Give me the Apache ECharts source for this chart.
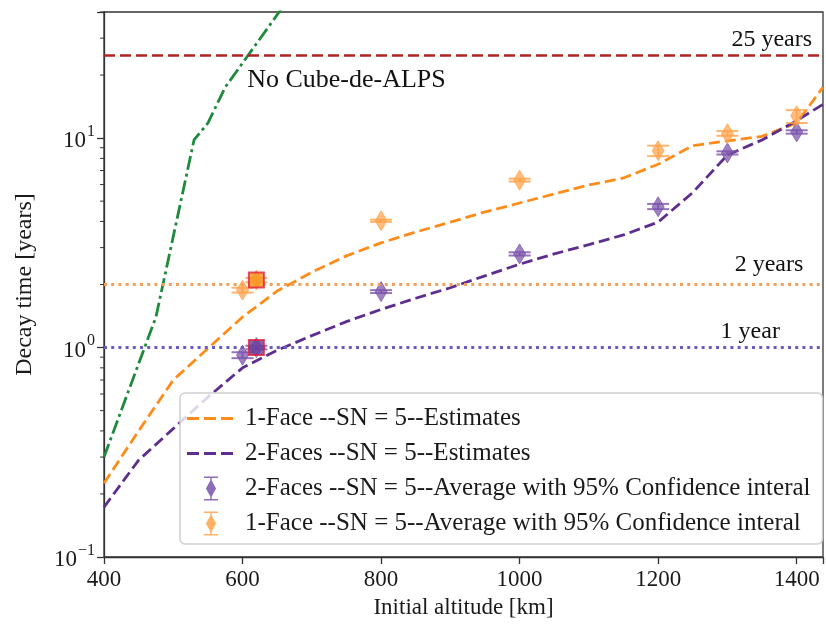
<!DOCTYPE html>
<html>
<head>
<meta charset="utf-8">
<script src="https://cdn.jsdelivr.net/npm/echarts@6/dist/echarts.min.js"></script>
<style>
html,body{margin:0;padding:0;background:#fff;}
#c{width:826px;height:626px;}
</style>
</head>
<body>
<div id="c"></div>
<script>
// ---------------- data ----------------
const altEst = [400,450,500,550,600,650,700,750,800,850,900,950,1000,1050,1100,1150,1200,1250,1300,1350,1400,1438];
const face1Est = [0.225,0.40,0.70,0.99,1.40,1.86,2.29,2.74,3.16,3.56,3.97,4.44,4.9,5.41,5.97,6.45,7.5,9.2,9.7,10.2,11.8,17.5];
const face2Est = [0.173,0.29,0.41,0.58,0.80,0.97,1.14,1.33,1.52,1.72,1.93,2.2,2.5,2.8,3.1,3.45,3.97,5.5,8.3,9.8,12.1,14.5];

const altGreen = [400,475,530,550,575,700];
const noCubeDeAlps = [0.30,1.40,9.8,11.8,17.5,66];

const altErr = [600,620,800,1000,1200,1300,1400];
const face2Avg = [0.92,1.0,1.85,2.8,4.7,8.5,10.7];
const face2Lo  = [0.89,0.98,1.82,2.75,4.58,8.35,10.5];
const face2Hi  = [0.95,1.02,1.88,2.85,4.85,8.65,10.9];
const face1Avg = [1.88,2.1,4.03,6.3,8.7,10.5,12.8];
const face1Lo  = [1.83,2.05,3.98,6.2,8.2,10.25,11.8];
const face1Hi  = [1.93,2.15,4.08,6.4,9.2,10.8,13.6];

const squareAlt = [620];
const squareFace1 = [2.1];
const squareFace2 = [1.0];

const refYears = [25, 2, 1];
const refLabels = ['25 years', '2 years', '1 year'];
const refLabelPos = [[1364, 29.4], [1360, 2.48], [1333, 1.19]];
const noCubeLabel = 'No Cube-de-ALPS';
const noCubeLabelPos = [750, 18.9];

const xTicks = [400,600,800,1000,1200,1400];
const names = {
  f1est: '1-Face --SN = 5--Estimates',
  f2est: '2-Faces --SN = 5--Estimates',
  f2avg: '2-Faces --SN = 5--Average with 95% Confidence interal',
  f1avg: '1-Face --SN = 5--Average with 95% Confidence interal'
};

// ---------------- styling ----------------
const FONT = 'Liberation Serif';
const TXT = '#1a1a1a';
const C = {
  orange: '#ff8c1a', purple: '#5d2e8f', green: '#1e8a3c',
  red: '#b22222', dotOrange: '#f5a05a', dotPurple: '#6b5bc4',
  dPurple: '#7a52aa', dOrange: '#ffa24a', sqBorder: '#e0203c'
};
const XMIN = 400, XMAX = 1438, YMIN = 0.1, YMAX = 40;

const minorTicks = [];
for (let e = -1; e <= 1; e++) {
  for (let k = 2; k <= 9; k++) {
    const v = k * Math.pow(10, e);
    if (v <= YMAX) minorTicks.push(v);
  }
}

function zipXY(xs, ys) { return xs.map((x, i) => [x, ys[i]]); }

function errRender(color, fillOpacity) {
  return function (params, api) {
    const x = api.value(0), v = api.value(1), lo = api.value(2), hi = api.value(3);
    const c = api.coord([x, v]);
    const pl = api.coord([x, lo]);
    const ph = api.coord([x, hi]);
    const hw = 11, dw = 6, dh = 10;
    return {
      type: 'group',
      children: [
        { type: 'line', shape: { x1: c[0], y1: pl[1], x2: c[0], y2: ph[1] }, style: { stroke: color, lineWidth: 2, opacity: 0.8 } },
        { type: 'line', shape: { x1: c[0] - hw, y1: pl[1], x2: c[0] + hw, y2: pl[1] }, style: { stroke: color, lineWidth: 2, opacity: 0.8 } },
        { type: 'line', shape: { x1: c[0] - hw, y1: ph[1], x2: c[0] + hw, y2: ph[1] }, style: { stroke: color, lineWidth: 2, opacity: 0.8 } },
        { type: 'polygon', shape: { points: [[c[0], c[1] - dh], [c[0] + dw, c[1]], [c[0], c[1] + dh], [c[0] - dw, c[1]]] },
          style: { fill: color, opacity: fillOpacity, stroke: color, lineWidth: 1 } }
      ]
    };
  };
}

const errIcon = 'path://M0,0h15v1.6h-15z M0,24.4h15v1.6h-15z M6.7,0h1.6v26h-1.6z M7.5,3L13,13L7.5,23L2,13z';
const dashIcon = 'path://M0,0L0.01,0L0,0.01z M47.99,23.99L48,24L47.99,24z M0,10.6h12v2.8h-12z M17,10.6h12v2.8h-12z M34,10.6h12v2.8h-12z';

function supLabel(v) {
  const e = Math.log10(v);
  const r = Math.round(e);
  if (Math.abs(e - r) > 1e-6) return '';
  const s = r < 0 ? '\u2212' + Math.abs(r) : String(r);
  return '{b|10}{s|' + s + '}';
}

const chart = echarts.init(document.getElementById('c'), null, { renderer: 'canvas' });

const option = {
  backgroundColor: '#fff',
  animation: false,
  textStyle: { fontFamily: FONT },
  grid: { left: 104, right: -2, top: 12, bottom: 69, show: true, borderColor: '#333', borderWidth: 1.3, backgroundColor: 'transparent' },
  legend: {
    orient: 'vertical',
    left: 180, top: 393,
    padding: [13, 12, 8, 7],
    itemWidth: 48, itemHeight: 24, itemGap: 10,
    backgroundColor: 'rgba(255,255,255,0.8)',
    borderColor: '#d0d0d0', borderWidth: 1.5, borderRadius: 5,
    textStyle: { fontFamily: FONT, fontSize: 25, lineHeight: 24, color: TXT, padding: [0, 0, 0, 5] },
    data: [
      { name: names.f1est, icon: dashIcon, itemStyle: { color: C.orange } },
      { name: names.f2est, icon: dashIcon, itemStyle: { color: C.purple } },
      { name: names.f2avg, icon: errIcon },
      { name: names.f1avg, icon: errIcon }
    ]
  },
  xAxis: {
    type: 'value', min: XMIN, max: XMAX, interval: 200,
    name: 'Initial altitude [km]', nameLocation: 'middle', nameGap: 39,
    nameTextStyle: { fontFamily: FONT, fontSize: 23, color: TXT },
    axisLine: { show: true, lineStyle: { color: '#333', width: 1.3 } },
    axisTick: { show: true, length: 7, lineStyle: { color: '#333', width: 1.3 } },
    axisLabel: { fontFamily: FONT, fontSize: 23, color: TXT, margin: 11,
      formatter: v => (xTicks.indexOf(v) >= 0 ? String(v) : '') },
    splitLine: { show: false }
  },
  yAxis: {
    type: 'log', logBase: 10, min: YMIN, max: YMAX,
    name: 'Decay time [years]', nameLocation: 'middle', nameGap: 67,
    nameTextStyle: { fontFamily: FONT, fontSize: 24, color: TXT },
    axisLine: { show: true, lineStyle: { color: '#333', width: 1.3 } },
    axisTick: { show: true, length: 7, lineStyle: { color: '#333', width: 1.3 } },
    axisLabel: { color: TXT, margin: 9, formatter: supLabel,
      rich: {
        b: { fontFamily: FONT, fontSize: 23, color: TXT, verticalAlign: 'bottom' },
        s: { fontFamily: FONT, fontSize: 16, color: TXT, verticalAlign: 'bottom', padding: [0, 0, 13, 1] }
      } },
    splitLine: { show: false }
  },
  series: [
    {
      name: 'refs', type: 'line', data: [], silent: true,
      markLine: {
        symbol: 'none', silent: true, label: { show: false }, animation: false,
        data: [
          { yAxis: refYears[0], lineStyle: { color: C.red, width: 2.6, type: [11, 5] } },
          { yAxis: refYears[1], lineStyle: { color: C.dotOrange, width: 3, type: [3, 4.2] } },
          { yAxis: refYears[2], lineStyle: { color: C.dotPurple, width: 3, type: [3, 4.2] } }
        ]
      }
    },
    {
      name: 'No Cube-de-ALPS line', type: 'line', data: zipXY(altGreen, noCubeDeAlps),
      showSymbol: false, symbol: 'none', z: 3,
      lineStyle: { color: C.green, width: 2.8, type: [14, 4, 3, 4] }
    },
    {
      name: names.f1est, type: 'line', data: zipXY(altEst, face1Est),
      showSymbol: false, symbol: 'none', z: 3,
      itemStyle: { color: C.orange },
      lineStyle: { color: C.orange, width: 2.8, type: [11, 5] }
    },
    {
      name: names.f2est, type: 'line', data: zipXY(altEst, face2Est),
      showSymbol: false, symbol: 'none', z: 3,
      itemStyle: { color: C.purple },
      lineStyle: { color: C.purple, width: 2.8, type: [11, 5] }
    },
    {
      name: names.f2avg, type: 'custom', z: 4,
      itemStyle: { color: C.dPurple, opacity: 0.85 },
      renderItem: errRender(C.dPurple, 0.72),
      encode: { x: 0, y: 1 },
      data: altErr.map((a, i) => [a, face2Avg[i], face2Lo[i], face2Hi[i]])
    },
    {
      name: names.f1avg, type: 'custom', z: 4,
      itemStyle: { color: C.dOrange, opacity: 0.85 },
      renderItem: errRender(C.dOrange, 0.72),
      encode: { x: 0, y: 1 },
      data: altErr.map((a, i) => [a, face1Avg[i], face1Lo[i], face1Hi[i]])
    },
    {
      name: 'sqOrange', type: 'scatter', z: 5, symbol: 'rect', symbolSize: 15,
      itemStyle: { color: '#f7941d', borderColor: C.sqBorder, borderWidth: 2 },
      data: zipXY(squareAlt, squareFace1)
    },
    {
      name: 'sqPurple', type: 'scatter', z: 5, symbol: 'rect', symbolSize: 15,
      itemStyle: { color: '#6a3d9a', borderColor: C.sqBorder, borderWidth: 2 },
      data: zipXY(squareAlt, squareFace2)
    },
    {
      name: 'annotations', type: 'scatter', z: 6, symbolSize: 1, silent: true,
      itemStyle: { color: 'rgba(0,0,0,0)' },
      label: { show: true, position: 'inside', fontFamily: FONT, fontSize: 24, color: '#111', opacity: 1, textBorderWidth: 0,
        formatter: p => p.data.text },
      emphasis: { disabled: true },
      data: refLabels.map((t, i) => ({ value: refLabelPos[i], text: t }))
        .concat([{ value: noCubeLabelPos, text: noCubeLabel, label: { fontSize: 26 } }])
    },
    {
      name: 'minorTicks', type: 'custom', silent: true, clip: false, z: 6,
      renderItem: function (params, api) {
        const p = api.coord([XMIN, api.value(0)]);
        return { type: 'line', shape: { x1: p[0] - 4, y1: p[1], x2: p[0], y2: p[1] }, style: { stroke: '#333', lineWidth: 1 } };
      },
      encode: { y: 0 },
      data: minorTicks.map(v => [v])
    }
  ]
};
chart.setOption(option);
</script>
</body>
</html>
